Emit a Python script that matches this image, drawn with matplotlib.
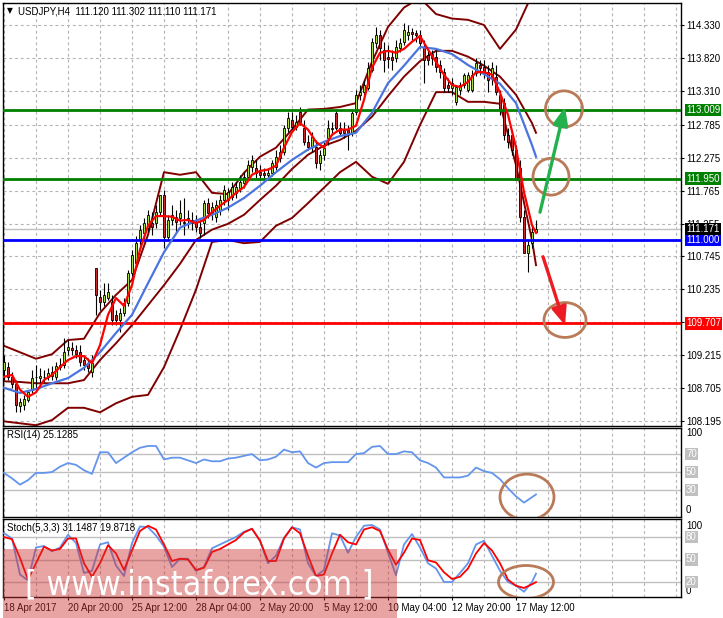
import numpy as np
import matplotlib
matplotlib.use('Agg')
import matplotlib.pyplot as plt
from matplotlib import font_manager
from matplotlib.patches import Ellipse, Rectangle
from matplotlib.transforms import blended_transform_factory

plt.rcParams['font.family'] = ['Liberation Sans', 'DejaVu Sans']

# ---- price data (H4 candles) ----
opens = [108.99, 109.03, 108.88, 108.77, 108.43, 108.44, 108.52, 108.68, 108.88, 108.86,
         108.88, 108.88, 108.89, 108.88, 109.03, 109.06, 109.30, 109.33, 109.30, 109.26,
         109.14, 109.09, 108.95, 110.57, 110.12, 110.04, 110.10, 110.04, 109.84, 109.76,
         109.87, 110.02, 110.49, 110.64, 111.00, 111.11, 111.19, 111.26, 111.26, 111.43,
         111.70, 111.05, 111.31, 111.36, 111.34, 111.28, 111.31, 111.31, 111.26, 111.20,
         111.26, 111.57, 111.43, 111.36, 111.46, 111.62, 111.62, 111.67, 111.73, 111.81,
         111.88, 111.98, 112.13, 112.12, 112.05, 112.04, 112.01, 112.04, 112.13, 112.27,
         112.36, 112.74, 112.86, 112.75, 112.98, 112.74, 112.52, 112.44, 112.44, 112.19,
         112.32, 112.58, 112.74, 112.97, 112.74, 112.70, 112.70, 112.66, 112.98, 113.25,
         113.29, 113.36, 113.64, 114.05, 114.18, 113.95, 113.84, 113.84, 113.82, 113.98,
         114.07, 114.18, 114.22, 114.21, 114.18, 113.99, 113.87, 113.82, 113.84, 113.71,
         113.60, 113.40, 113.36, 113.14, 113.33, 113.40, 113.33, 113.33, 113.59, 113.71,
         113.68, 113.60, 113.53, 113.53, 113.25, 113.12, 112.63, 112.63, 112.40, 112.12,
         111.36, 110.80, 110.95, 111.120]
highs = [109.22, 109.11, 108.95, 108.83, 108.55, 108.60, 108.64, 108.98, 109.06, 109.02,
         108.99, 109.02, 109.05, 109.11, 109.17, 109.48, 109.45, 109.42, 109.37, 109.37,
         109.22, 109.17, 109.22, 110.57, 110.23, 110.33, 110.33, 110.15, 109.92, 109.95,
         110.10, 110.53, 110.85, 111.06, 111.23, 111.34, 111.46, 111.43, 111.54, 111.70,
         111.78, 111.39, 111.54, 111.46, 111.62, 111.65, 111.46, 111.43, 111.39, 111.31,
         111.62, 111.65, 111.59, 111.62, 111.70, 111.85, 111.81, 111.90, 111.90, 112.01,
         112.05, 112.24, 112.32, 112.24, 112.16, 112.12, 112.12, 112.24, 112.40, 112.47,
         112.78, 112.98, 112.98, 112.94, 113.06, 112.86, 112.63, 112.67, 112.55, 112.40,
         112.52, 112.86, 112.83, 113.02, 112.83, 112.83, 112.78, 113.01, 113.33, 113.40,
         113.48, 113.76, 114.13, 114.30, 114.26, 114.07, 114.02, 113.95, 114.10, 114.13,
         114.36, 114.33, 114.29, 114.26, 114.26, 114.10, 113.95, 113.95, 113.95, 113.79,
         113.67, 113.51, 113.51, 113.40, 113.45, 113.58, 113.60, 113.64, 113.82, 113.79,
         113.79, 113.71, 113.76, 113.71, 113.33, 113.20, 112.74, 112.70, 112.47, 112.24,
         111.46, 111.00, 111.23, 111.302]
lows = [108.83, 108.83, 108.71, 108.33, 108.33, 108.37, 108.49, 108.63, 108.68, 108.75,
        108.80, 108.83, 108.83, 108.83, 108.99, 109.02, 109.22, 109.22, 109.17, 109.05,
        108.99, 108.95, 108.88, 109.84, 109.92, 109.98, 110.07, 109.68, 109.68, 109.57,
        109.82, 109.98, 110.44, 110.61, 110.92, 111.00, 111.12, 111.08, 111.19, 111.39,
        110.88, 111.00, 111.23, 111.12, 111.23, 111.08, 111.19, 111.15, 111.12, 111.03,
        111.08, 111.34, 111.31, 111.28, 111.39, 111.54, 111.46, 111.62, 111.65, 111.74,
        111.81, 111.93, 112.05, 111.96, 111.93, 111.93, 111.93, 111.99, 112.09, 112.21,
        112.32, 112.67, 112.70, 112.70, 112.78, 112.47, 112.40, 112.36, 112.12, 112.09,
        112.24, 112.47, 112.63, 112.70, 112.63, 112.58, 112.40, 112.61, 112.94, 113.17,
        113.23, 113.33, 113.60, 113.98, 113.79, 113.60, 113.67, 113.64, 113.76, 113.91,
        114.02, 114.10, 114.10, 114.07, 113.98, 113.43, 113.71, 113.71, 113.60, 113.51,
        113.29, 113.29, 113.25, 113.09, 113.25, 113.36, 113.29, 113.29, 113.54, 113.56,
        113.51, 113.29, 113.40, 113.25, 112.94, 112.55, 112.43, 112.32, 111.93, 111.28,
        110.80, 110.50, 110.88, 111.110]
closes = [109.11, 108.88, 108.77, 108.44, 108.49, 108.54, 108.64, 108.86, 108.87, 108.89,
          108.87, 108.94, 108.95, 109.05, 109.06, 109.26, 109.34, 109.30, 109.23, 109.11,
          109.06, 109.02, 109.09, 110.15, 110.04, 110.15, 110.19, 109.76, 109.76, 109.87,
          110.02, 110.49, 110.77, 110.95, 111.15, 111.26, 111.39, 111.20, 111.43, 111.70,
          111.05, 111.31, 111.39, 111.28, 111.42, 111.26, 111.34, 111.26, 111.20, 111.11,
          111.57, 111.42, 111.51, 111.54, 111.62, 111.78, 111.74, 111.82, 111.82, 111.90,
          111.98, 112.16, 112.24, 112.04, 112.01, 112.01, 112.04, 112.19, 112.29, 112.36,
          112.74, 112.89, 112.75, 112.83, 112.83, 112.52, 112.44, 112.60, 112.19, 112.32,
          112.43, 112.74, 112.72, 112.74, 112.66, 112.66, 112.66, 112.97, 113.25, 113.29,
          113.40, 113.67, 114.07, 114.18, 113.98, 113.79, 113.81, 113.79, 113.99, 114.05,
          114.26, 114.22, 114.19, 114.18, 114.05, 113.79, 113.79, 113.88, 113.68, 113.60,
          113.36, 113.36, 113.43, 113.37, 113.40, 113.56, 113.56, 113.56, 113.74, 113.67,
          113.59, 113.48, 113.67, 113.29, 113.02, 112.63, 112.52, 112.40, 111.93, 111.36,
          110.80, 110.92, 111.12, 111.171]

# indicator lines read every 4 bars (plus last bar)
idx4 = list(range(0, 133, 4)) + [133]
bb_upper = [109.36, 109.26, 109.16, 109.23, 109.45, 109.47, 109.87, 110.15, 110.38, 111.08,
            112.05, 112.01, 112.05, 111.73, 111.71, 112.04, 112.29, 112.43, 112.71, 113.02,
            113.03, 113.06, 113.12, 113.76, 114.30, 114.60, 114.75, 114.50, 114.43, 114.41,
            114.33, 113.96, 114.26, 114.80, 114.95]
bb_mid = [108.81, 108.80, 108.78, 108.78, 108.78, 108.83, 109.14, 109.40, 109.68, 109.99,
          110.30, 110.63, 111.00, 111.16, 111.25, 111.39, 111.62, 111.84, 112.10, 112.32,
          112.46, 112.55, 112.69, 112.91, 113.23, 113.53, 113.77, 113.93, 113.93, 113.84,
          113.70, 113.53, 113.25, 112.81, 112.66]
bb_lower = [108.19, 108.16, 108.13, 108.21, 108.40, 108.40, 108.33, 108.47, 108.57, 108.60,
            109.03, 109.61, 110.23, 110.97, 111.00, 110.95, 110.97, 111.22, 111.34, 111.57,
            111.81, 112.05, 112.21, 111.98, 111.87, 112.21, 112.78, 113.29, 113.29, 113.14,
            113.14, 113.11, 112.16, 111.00, 110.61]
ma_slow = [108.71, 108.63, 108.69, 108.78, 108.86, 109.02, 109.26, 109.56, 109.84, 110.33,
           110.81, 111.19, 111.30, 111.39, 111.50, 111.65, 111.84, 112.05, 112.24, 112.40,
           112.52, 112.61, 112.66, 112.97, 113.43, 113.70, 113.99, 113.96, 113.88, 113.71,
           113.57, 113.42, 113.12, 112.47, 112.29]

# faster lines read every 2 bars (plus last bar)
idx2 = list(range(0, 133, 2)) + [133]
ma_fast = [108.88, 108.91, 108.68, 108.57, 108.64, 108.83, 108.91, 109.03, 109.14, 109.20,
           109.20, 109.09, 109.37, 109.84, 110.10, 109.98, 110.30, 110.85, 111.22, 111.37,
           111.37, 111.36, 111.30, 111.31, 111.26, 111.31, 111.43, 111.53, 111.62, 111.73,
           111.82, 112.01, 112.07, 112.09, 112.15, 112.43, 112.67, 112.81, 112.71, 112.52,
           112.43, 112.63, 112.71, 112.71, 112.77, 113.17, 113.67, 113.90, 113.93, 113.90,
           113.96, 114.07, 114.16, 113.95, 113.76, 113.56, 113.40, 113.37, 113.45, 113.60,
           113.60, 113.56, 113.28, 112.94, 112.43, 111.74, 111.23, 111.11]
rsi = [49, 43, 36, 41, 49, 49, 50, 56, 60, 58,
       52, 48, 72, 72, 60, 66, 72, 77, 79, 79,
       64, 66, 66, 63, 60, 64, 62, 62, 65, 66,
       68, 70, 63, 64, 67, 75, 72, 73, 60, 55,
       60, 61, 61, 61, 70, 71, 78, 79, 70, 70,
       73, 72, 63, 60, 55, 44, 44, 44, 46, 55,
       51, 49, 42, 32, 23, 16, 22, 25.1285]
stoch_k = [85, 78, 30, 22, 66, 68, 61, 66, 83, 72,
           32, 35, 70, 73, 42, 28, 72, 94, 93, 82,
           67, 40, 51, 51, 35, 40, 65, 70, 75, 80,
           87, 91, 75, 45, 55, 79, 93, 90, 45, 28,
           36, 85, 82, 59, 80, 95, 96, 90, 59, 29,
           70, 84, 66, 45, 38, 20, 20, 32, 45, 70,
           75, 55, 35, 20, 15, 7, 20, 31.1487]
stoch_d = [80, 77, 52, 23, 45, 67, 62, 64, 78, 78,
           45, 27, 45, 69, 58, 36, 62, 88, 95, 90,
           70, 48, 51, 50, 36, 39, 60, 64, 70, 76,
           86, 91, 75, 48, 48, 78, 93, 85, 55, 28,
           30, 58, 83, 73, 70, 90, 93, 88, 63, 43,
           59, 78, 76, 49, 46, 33, 24, 27, 38, 58,
           72, 62, 45, 23, 15, 12, 17, 19.8718]

price_ticks = [114.330, 113.820, 113.310, 112.785, 112.275, 111.765, 111.255,
               110.745, 110.235, 109.725, 109.215, 108.705, 108.195]
time_idx = [0, 16, 32, 48, 64, 80, 96, 112, 128]
time_labels = ['18 Apr 2017', '20 Apr 20:00', '25 Apr 12:00', '28 Apr 04:00',
               '2 May 20:00', '5 May 12:00', '10 May 04:00', '12 May 20:00', '17 May 12:00']

levels = [113.009, 111.950, 111.000, 109.707]
level_colors = ['#008000', '#008000', '#0000ff', '#ff0000']
last_price = 111.171

# hand-drawn marks on the chart (bar index, price)
circles = [(140.0, 113.03, 9.25, 0.56), (136.75, 111.98, 9.0, 0.57), (140.25, 109.76, 10.5, 0.54)]
arrow_up = ((134.0, 111.43), (140.25, 113.06))
arrow_down = ((134.75, 110.74), (140.25, 109.68))

W, H = 723, 618
fig = plt.figure(figsize=(W / 100, H / 100), dpi=100)
fig.patch.set_facecolor('white')


def panel(top, bottom):
    return fig.add_axes([3 / W, 1 - bottom / H, 678 / W, (bottom - top) / H])


ax = panel(3, 426)
ax_rsi = panel(428, 517)
ax_st = panel(519, 597)

GRID = '#b4b4b4'
for a in (ax, ax_rsi, ax_st):
    a.set_xlim(-0.25, 169.25)
    for s in a.spines.values():
        s.set_color('black')
        s.set_linewidth(1.0)
    a.tick_params(axis='x', length=0, labelbottom=False)
    a.set_yticks([])
    for g in range(0, 170, 8):
        a.axvline(g, color=GRID, lw=0.8, ls=(0, (2.6, 2.6)), zorder=0.5)

# ---- main price panel ----
x = np.arange(len(closes))
o = np.array(opens)
c = np.array(closes)
hi = np.array(highs)
lo = np.array(lows)

ax.set_ylim(108.118, 114.671)
ax.yaxis.tick_right()
ax.set_yticks(price_ticks)
ax.set_yticklabels(['%.3f' % t for t in price_ticks])
ax.tick_params(axis='y', right=True, length=2.5, width=0.8, pad=1.5, labelsize=7)
for t in price_ticks:
    ax.axhline(t, color=GRID, lw=0.8, ls=(0, (2.6, 2.6)), zorder=0.5)
ax.axhline(last_price, color='#c0c0c0', lw=1.0, zorder=0.8)

for line in (bb_upper, bb_mid, bb_lower):
    ax.plot(idx4, line, color='#800000', lw=1.4, zorder=2, solid_joinstyle='round')

up = c >= o
body_lo = np.minimum(o, c)
body_h = np.maximum(np.abs(c - o), 0.006)
ax.vlines(x, lo, hi, color='black', lw=0.8, zorder=3)
ax.bar(x[up], body_h[up], bottom=body_lo[up], width=0.7, color='#a8dc3c',
       edgecolor='black', linewidth=0.6, zorder=3.5)
ax.bar(x[~up], body_h[~up], bottom=body_lo[~up], width=0.7, color='#c82828',
       edgecolor='black', linewidth=0.6, zorder=3.5)

for lv, col in zip(levels, level_colors):
    ax.axhline(lv, color=col, lw=2.0, zorder=4)

ax.plot(idx4, ma_slow, color='#4a74e0', lw=1.6, zorder=5, solid_joinstyle='round')
ax.plot(idx2, ma_fast, color='#ff0000', lw=1.6, zorder=5.5, solid_joinstyle='round')


def tag(a, y, s, fc, tc='white'):
    a.text(1 + 5 / 678, y, s, transform=blended_transform_factory(a.transAxes, a.transData),
           ha='left', va='center', fontsize=7, color=tc, zorder=10, clip_on=False,
           bbox=dict(boxstyle='square,pad=0.12', fc=fc, ec='none'))


def label(a, y, s):
    a.text(1 + 5 / 678, y, s, transform=blended_transform_factory(a.transAxes, a.transData),
           ha='left', va='center', fontsize=7, color='black', clip_on=False)


for lv, col in zip(levels, level_colors):
    tag(ax, lv, '%.3f' % lv, col)
tag(ax, last_price, '%.3f' % last_price, 'black')

brown = '#b97a57'
for cx, cy, w, h in circles:
    ax.add_patch(Ellipse((cx, cy), w, h, fill=False, ec=brown, lw=2.0, zorder=7))
ax.annotate('', xy=arrow_up[1], xytext=arrow_up[0], zorder=7,
            arrowprops=dict(arrowstyle='-|>,head_length=1.2,head_width=0.5',
                            mutation_scale=9, color='#22b14c', lw=2.4, shrinkA=0, shrinkB=0))
ax.annotate('', xy=arrow_down[1], xytext=arrow_down[0], zorder=7,
            arrowprops=dict(arrowstyle='-|>,head_length=1.2,head_width=0.5',
                            mutation_scale=9, color='#ed1c24', lw=2.4, shrinkA=0, shrinkB=0))

# ---- RSI panel ----
ax_rsi.set_ylim(0, 99)
for lv in (30, 50, 70):
    ax_rsi.axhline(lv, color='#c0c0c0', lw=1.0, zorder=0.8)
ax_rsi.plot(idx2, rsi, color='#6495ed', lw=1.3, zorder=3)
ax_rsi.add_patch(Ellipse((130.75, 22.2), 13.5, 51, fill=False, ec=brown, lw=2.0, zorder=7))
label(ax_rsi, 93.3, '100')
label(ax_rsi, 7.8, '0')
for lv in (70, 50, 30):
    tag(ax_rsi, lv, str(lv), '#c0c0c0')

# ---- Stochastic panel ----
ax_st.set_ylim(0, 104)
for lv in (20, 50, 80):
    ax_st.axhline(lv, color='#c0c0c0', lw=1.0, zorder=0.8)
ax_st.plot(idx2, stoch_k, color='#6495ed', lw=1.3, zorder=3)
ax_st.plot(idx2, stoch_d, color='#ff0000', lw=1.3, zorder=3.5)
ax_st.add_patch(Ellipse((130.5, 20), 13.75, 44, fill=False, ec=brown, lw=2.0, zorder=7))
label(ax_st, 94.7, '100')
label(ax_st, 8, '0')
for lv in (80, 50, 20):
    tag(ax_st, lv, str(lv), '#c0c0c0')

ax_st.set_xticks(time_idx)
ax_st.set_xticklabels(time_labels, ha='left')
ax_st.tick_params(axis='x', length=2.5, width=0.8, labelbottom=True, labelsize=7, pad=1.5)

# ---- texts ----
fig.text(7 / W, 1 - 11 / H, '\u25bc', fontsize=5.5, family='DejaVu Sans', va='center')
fig.text(18 / W, 1 - 11 / H, 'USDJPY,H4  111.120 111.302 111.110 111.171',
         fontsize=7, va='center')
fig.text(7 / W, 1 - 435 / H, 'RSI(14) 25.1285', fontsize=7, va='center')
fig.text(7 / W, 1 - 528 / H, 'Stoch(5,3,3) 31.1487 19.8718', fontsize=7, va='center')

# ---- watermark ----
fig.add_artist(Rectangle((3 / W, 0), 394 / W, 69 / H, transform=fig.transFigure,
                         fc=(0.8, 0.2, 0.2), alpha=0.45, ec='none', zorder=5))
ttf = font_manager.fontManager.ttflist
wm_kw = {'family': 'Liberation Sans'}
if any(f.name == 'Liberation Sans Narrow' for f in ttf):
    wm_kw = {'family': 'Liberation Sans Narrow'}
elif any(f.name == 'DejaVu Sans' and f.stretch == 'condensed' for f in ttf):
    wm_kw = {'family': 'DejaVu Sans', 'fontstretch': 'condensed'}
wm = fig.text(25 / W, 1 - 594 / H, '[ www.instaforex.com ]', color='white', fontsize=30,
              va='baseline', ha='left', zorder=6, **wm_kw)
fig.canvas.draw()
width = wm.get_window_extent(fig.canvas.get_renderer()).width
wm.set_fontsize(30 * 348 / width)

fig.savefig('out.png', dpi=100)
